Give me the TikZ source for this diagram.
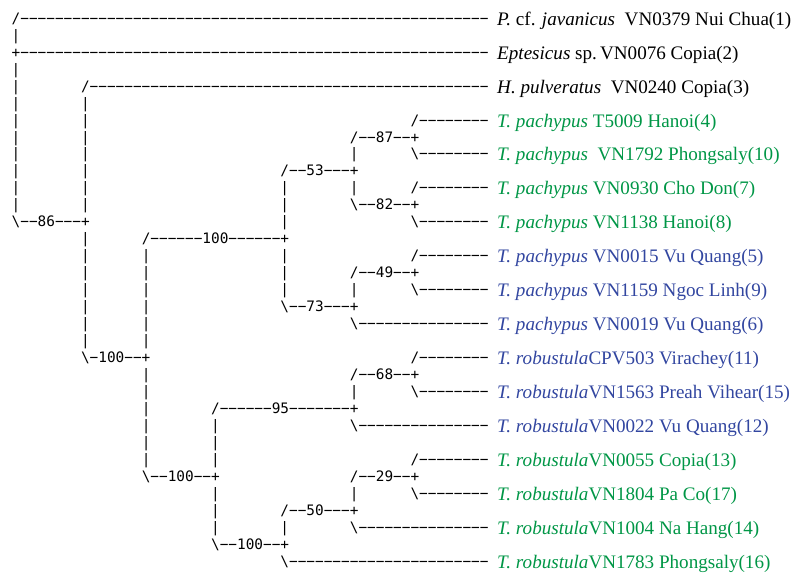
\documentclass[tikz,border=0pt]{standalone}
\usepackage{fontspec}
\setmainfont{Liberation Serif}
\setmonofont{DejaVu Sans Mono}
\definecolor{grn}{RGB}{0,150,70}
\definecolor{blu}{RGB}{50,70,160}
\newcommand{\dashes}[1]{\foreach \k in {1,...,#1}{−}}
\newcommand{\bksl}{\textbackslash}
\begin{document}
\begin{tikzpicture}[x=8.67pt,y=-16.96pt,
  tree/.style={anchor=base west,inner sep=0pt,outer sep=0pt,
    font=\ttfamily\fontsize{14.4}{17}\selectfont},
  taxon/.style={anchor=base west,inner sep=0pt,outer sep=0pt,yshift=-2pt,
    font=\fontsize{19.1}{22}\selectfont}]
\useasboundingbox (-11.7pt,23.3pt) rectangle (783.3pt,-550.7pt);
% branches with support values
\node[tree] (b86) at (0,12) {\bksl−−86−−−+};
\node[tree] (b100a) at (8,20) {\bksl−100−−+};
\node[tree] (b100b) at (15,13) {/−−−−−−100−−−−−−+};
\node[tree] (b53) at (31,9) {/−−53−−−+};
\node[tree] (b87) at (39,7) {/−−87−−+};
\node[tree] (b82) at (39,11) {\bksl−−82−−+};
\node[tree] (b73) at (31,17) {\bksl−−73−−−+};
\node[tree] (b49) at (39,15) {/−−49−−+};
\node[tree] (b100c) at (15,27) {\bksl−−100−−+};
\node[tree] (b95) at (23,23) {/−−−−−−95−−−−−−−+};
\node[tree] (b68) at (39,21) {/−−68−−+};
\node[tree] (b100d) at (23,31) {\bksl−−100−−+};
\node[tree] (b50) at (31,29) {/−−50−−−+};
\node[tree] (b29) at (39,27) {/−−29−−+};
% terminal branches
\node[tree] (l0) at (0,0) {/\dashes{54}};
\node[tree] (l2) at (0,2) {+\dashes{54}};
\node[tree] (l4) at (8,4) {/\dashes{46}};
\foreach \r in {6,10,14,20,26}
  \node[tree] (l\r) at (46,\r) {/\dashes{8}};
\foreach \r in {8,12,16,22,28}
  \node[tree] (l\r) at (46,\r) {\bksl\dashes{8}};
\foreach \r in {18,24,30}
  \node[tree] (l\r) at (39,\r) {\bksl\dashes{15}};
\node[tree] (l32) at (31,32) {\bksl\dashes{23}};
% vertical bars
\foreach \c/\from/\to in {0/1/1,0/3/11,8/5/11,8/13/19,15/14/19,15/21/26,
    23/24/26,23/28/30,31/10/12,31/14/16,31/30/30,
    39/8/8,39/10/10,39/16/16,39/22/22,39/28/28}
  \foreach \r in {\from,...,\to}
    \node[tree] (v\c-\r) at (\c,\r) {|};
% taxa
\foreach \r/\clr/\txt in {
  0/black/{\textit{P.} cf. \textit{javanicus}\ \ VN0379 Nui Chua(1)},
  2/black/{\textit{Eptesicus} sp.\,VN0076 Copia(2)},
  4/black/{\textit{H. pulveratus}\ \ VN0240 Copia(3)},
  6/grn/{\textit{T. pachypus} T5009 Hanoi(4)},
  8/grn/{\textit{T. pachypus}\ \ VN1792 Phongsaly(10)},
  10/grn/{\textit{T. pachypus} VN0930 Cho Don(7)},
  12/grn/{\textit{T. pachypus} VN1138 Hanoi(8)},
  14/blu/{\textit{T. pachypus} VN0015 Vu Quang(5)},
  16/blu/{\textit{T. pachypus} VN1159 Ngoc Linh(9)},
  18/blu/{\textit{T. pachypus} VN0019 Vu Quang(6)},
  20/blu/{\textit{T. robustula}CPV503 Virachey(11)},
  22/blu/{\textit{T. robustula}VN1563 Preah Vihear(15)},
  24/blu/{\textit{T. robustula}VN0022 Vu Quang(12)},
  26/grn/{\textit{T. robustula}VN0055 Copia(13)},
  28/grn/{\textit{T. robustula}VN1804 Pa Co(17)},
  30/grn/{\textit{T. robustula}VN1004 Na Hang(14)},
  32/grn/{\textit{T. robustula}VN1783 Phongsaly(16)}}
  \node[taxon,text=\clr] (t\r) at (56,\r) {\txt};
\end{tikzpicture}
\end{document}
